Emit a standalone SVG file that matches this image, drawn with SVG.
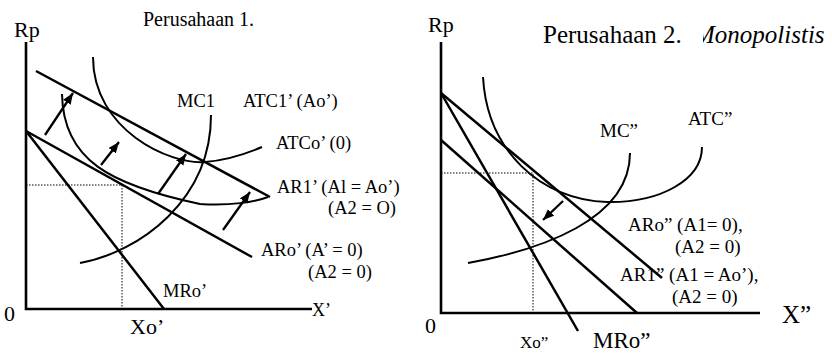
<svg xmlns="http://www.w3.org/2000/svg" width="832" height="353" viewBox="0 0 832 353">
<style>
text{font-family:"Liberation Serif","Times New Roman",serif;fill:#000}
.l{font-size:18.5px}
.r{font-size:19px}
.ax{fill:none;stroke:#000;stroke-width:2.6}
.ln{fill:none;stroke:#000;stroke-width:2.5}
.cv{fill:none;stroke:#000;stroke-width:2}
.dt{fill:none;stroke:#000;stroke-width:1;stroke-dasharray:1.5,1.5}
.ar{fill:none;stroke:#000;stroke-width:2.3;marker-end:url(#ah)}
</style>
<defs>
<marker id="ah" markerUnits="userSpaceOnUse" markerWidth="12" markerHeight="10" refX="11" refY="4.5" orient="auto">
<path d="M0,0 L11,4.5 L0,9 z" fill="#000"/>
</marker>
<clipPath id="mclip"><rect x="703" y="0" width="129" height="60"/></clipPath>
</defs>

<g id="panel1-axes">
<path class="ax" d="M26,42 V309 H312"/>
<text x="14" y="37" style="font-size:22px">Rp</text>
<text x="4" y="321" style="font-size:22px">0</text>
<text x="312" y="316" style="font-size:18px">X’</text>
<text x="130" y="334" style="font-size:22px">Xo’</text>
<text x="143" y="25.5" style="font-size:20px">Perusahaan 1.</text>
</g>

<g id="connectors">
<path class="dt" d="M26,185 H122 V309"/>
<path class="dt" d="M441,173 H533 V313"/>
<path class="ar" d="M45,135 L73,93"/>
<path class="ar" d="M101,165 L119,142"/>
<path class="ar" d="M158,194 L186,154"/>
<path class="ar" d="M223,230 L250,192"/>
<path class="ar" d="M563,201 L543,220"/>
</g>

<g id="AR1p">
<path class="ln" d="M36,71 L270,197"/>
<text class="l" x="277" y="193">AR1’ (Al = Ao’)</text>
<text class="l" x="328" y="214">(A2 = O)</text>
</g>
<g id="ARop">
<path class="ln" d="M26,131 L252,257"/>
<text class="l" x="261" y="256">ARo’ (A’ = 0)</text>
<text class="l" x="308" y="278">(A2 = 0)</text>
</g>
<g id="MRop">
<path class="ln" d="M26,131 L164,309"/>
<text class="l" x="163" y="297">MRo’</text>
</g>
<g id="MC1">
<path class="cv" d="M80,263 C140,252 211,200 211,115"/>
<text class="l" x="177" y="107">MC1</text>
</g>
<g id="ATC1p">
<path class="cv" d="M93,57 C93,130 170,165 205,162 C230,160 248,153 262,147"/>
<text class="l" x="243" y="107">ATC1’ (Ao’)</text>
</g>
<g id="ATCop">
<path class="cv" d="M62,94 C63,160 110,185 200,204 C230,206 255,202 268,197"/>
<text class="l" x="276" y="149">ATCo’ (0)</text>
</g>

<g id="panel2-axes">
<path class="ax" d="M441,42 V313 H760"/>
<text x="428" y="32" style="font-size:22px">Rp</text>
<text x="425" y="333" style="font-size:22px">0</text>
<text x="782" y="323" style="font-size:25px">X”</text>
<text x="520" y="348" style="font-size:17px">Xo”</text>
<text x="543" y="43" style="font-size:25px">Perusahaan 2.</text>
<text x="694" y="43" style="font-size:25px;font-style:italic" clip-path="url(#mclip)">Monopolistis</text>
</g>
<g id="ARo2">
<path class="ln" d="M441,93 L662,278"/>
<text class="r" x="628" y="231">ARo” (A1= 0),</text>
<text class="r" x="675" y="253">(A2 = 0)</text>
</g>
<g id="AR12">
<path class="ln" d="M441,140 L637,313"/>
<text class="r" x="620" y="281">AR1” (A1 = Ao’),</text>
<text class="r" x="672" y="303">(A2 = 0)</text>
</g>
<g id="MRo2">
<path class="ln" d="M441,93 L578,331"/>
<text x="593" y="348" style="font-size:23px">MRo”</text>
</g>
<g id="MC2">
<path class="cv" d="M468,263 C540,250 630,220 630,153"/>
<text class="r" x="600" y="137">MC”</text>
</g>
<g id="ATC2">
<path class="cv" d="M483,77 C487,150 540,200 607,202 C660,203 702,180 702,147"/>
<text class="r" x="688" y="125">ATC”</text>
</g>
</svg>
